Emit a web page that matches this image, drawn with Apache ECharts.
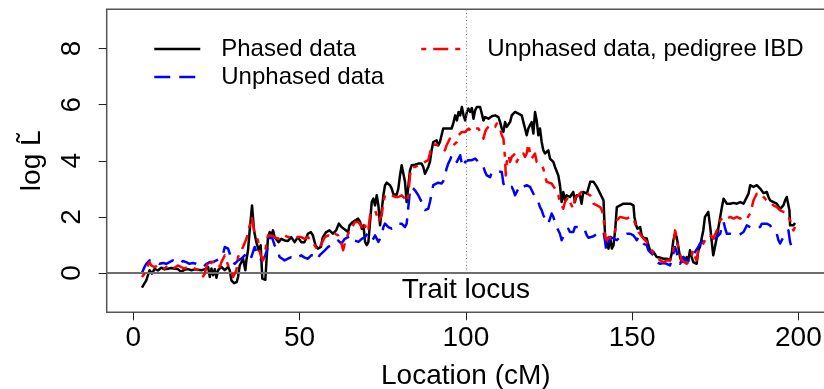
<!DOCTYPE html>
<html>
<head>
<meta charset="utf-8">
<script src="https://cdn.jsdelivr.net/npm/echarts@6/dist/echarts.min.js"></script>
<style>
  html, body { margin: 0; padding: 0; background: #fff; }
  #chart { width: 824px; height: 389px; }
</style>
</head>
<body>
<div id="chart"></div>
<script>
// Log likelihood ratio along the chromosome, [location (cM), log L~]
const phased = [
  [2.6,-0.52],[3.9,-0.26],[4.9,0.10],[5.6,-0.02],[6.4,0.15],[7.4,0.09],[8.4,0.19],[9.4,0.13],[10.4,0.15],[11.4,0.18],
  [12.4,0.15],[13.4,0.14],[14.4,0.04],[15.4,0.12],[16.4,0.14],[17.5,0.10],[18.5,0.13],[19.5,0.12],[20.5,0.10],[21.5,0.14],
  [22.5,0.21],[23,-0.14],[23.5,0.16],[24,-0.08],[24.5,0.14],[25,-0.17],[25.5,0.10],[26.5,0.22],[27.5,0.10],[28.5,0.22],
  [29,0.10],[29.5,-0.26],[30.3,-0.36],[31.1,-0.32],[31.5,-0.14],[32,0.27],[33,0.51],[33.7,0.10],[34,0.45],[34.5,0.81],
  [35,1.52],[35.7,2.41],[36.3,1.52],[37,1.10],[37.7,0.81],[38.3,0.99],[38.8,-0.20],[39.7,-0.24],[40,0.33],[40.5,1.28],
  [41,1.46],[41.5,1.34],[42,1.52],[42.5,1.28],[43,1.22],[43.7,1.10],[44.5,1.22],[45.5,1.16],[46.5,1.14],[47.5,1.28],
  [48.5,1.10],[49.5,1.28],[50.5,1.10],[51.5,1.10],[52.5,1.40],[53.4,1.46],[54,1.34],[54.8,0.98],[55.5,0.87],[56.4,0.93],
  [57,1.28],[58,1.46],[59,1.52],[60,1.40],[61,1.52],[61.8,1.76],[62.6,1.64],[63.6,1.55],[64.6,1.46],[65,1.70],
  [66,1.82],[67.6,1.94],[68.2,1.82],[68.7,1.58],[69.2,1.70],[69.7,1.11],[70.2,0.99],[70.7,1.11],[71.2,1.82],[71.7,2.53],
  [72.2,2.65],[72.7,2.41],[73.2,2.77],[73.7,2.41],[74.2,1.70],[74.7,1.76],[75.2,2.77],[75.7,3.13],[76.2,3.22],[76.7,3.19],
  [77.2,3.13],[77.7,3.01],[78.2,2.81],[78.7,2.79],[79.2,2.79],[79.7,3.01],[80.2,3.48],[80.7,3.84],[81.2,3.90],[81.7,3.25],
  [82.2,2.53],[82.7,2.53],[83.2,3.66],[83.7,3.84],[84.2,3.84],[84.7,3.86],[85.2,3.84],[85.7,3.90],[86.7,3.90],[87.2,3.78],
  [87.7,3.54],[88.2,3.52],[88.7,3.78],[89.2,3.96],[89.7,4.37],[90.2,4.67],[90.7,4.61],[91.2,4.73],[91.7,4.55],[92.2,4.67],
  [92.7,4.91],[93.2,5.15],[93.7,5.21],[94.7,5.15],[95.7,5.15],[96.2,5.33],[96.8,5.62],[97.3,5.44],[97.8,5.74],[98.3,5.62],
  [98.8,5.92],[99.3,5.62],[99.8,5.44],[100.3,5.74],[100.8,5.86],[101.3,5.74],[101.8,5.88],[102.3,5.50],[102.8,5.80],[103.3,5.92],
  [103.8,5.88],[104.3,5.92],[104.8,5.86],[105.3,5.44],[105.8,5.56],[106.3,5.62],[106.8,5.50],[107.8,5.59],[108.8,5.62],[109.8,5.56],
  [110.3,5.38],[110.8,5.15],[111.3,5.03],[111.8,5.38],[112.3,5.21],[113.3,5.38],[113.8,5.62],[114.8,5.74],[115.8,5.68],[116.3,5.74],
  [116.8,5.62],[117.3,5.38],[117.8,5.15],[118.3,4.91],[118.8,5.15],[119.3,5.27],[119.8,5.38],[120.3,4.97],[120.8,5.74],[121.3,5.44],
  [121.8,4.91],[122.3,5.15],[122.8,4.67],[123.3,4.37],[123.8,4.26],[124.3,4.20],[124.8,4.37],[125.3,4.08],[125.8,4.14],[126.3,3.96],
  [126.8,3.78],[127.3,3.84],[127.8,3.48],[128.3,3.13],[128.8,2.53],[129.3,2.89],[129.8,2.59],[130.3,2.77],[130.8,2.83],[131.3,2.71],
  [131.8,2.77],[132.3,2.89],[132.8,2.53],[133.3,2.77],[133.8,2.83],[134.3,2.77],[134.8,2.47],[135.3,2.89],[135.8,2.95],[136.4,2.83],
  [136.9,3.04],[137.4,3.25],[138.4,3.25],[138.9,3.19],[139.4,3.07],[139.9,2.95],[140.4,2.83],[140.9,2.71],[141.4,2.59],[141.6,2.00],
  [141.9,1.28],[142.4,1.05],[142.9,0.87],[143.4,1.28],[143.9,0.87],[144.4,0.99],[144.9,1.52],[145.4,2.35],[145.9,2.41],[146.4,2.41],
  [147.4,2.47],[148.4,2.47],[149.4,2.47],[149.9,2.44],[150.4,2.41],[150.7,2.00],[151.2,1.70],[151.6,1.58],[151.9,1.52],[152.4,1.64],
  [152.9,1.34],[153.4,1.26],[153.9,1.26],[154.4,1.23],[154.9,0.99],[155.4,0.81],[155.9,0.81],[156.4,0.75],[156.9,0.75],[157.4,0.57],
  [157.9,0.60],[158.4,0.55],[158.9,0.57],[159.4,0.51],[159.9,0.45],[160.4,0.51],[160.9,0.45],[161.4,0.45],[161.9,0.69],[162.4,1.17],
  [162.9,1.40],[163.4,1.28],[163.9,0.93],[164.4,0.57],[164.9,0.39],[165.4,0.57],[165.9,0.45],[166.4,0.57],[166.9,0.45],[167.4,0.81],
  [167.9,0.57],[168.4,0.39],[168.9,0.33],[169.4,0.33],[169.9,0.81],[170.4,0.93],[170.9,1.23],[171.4,1.52],[171.9,2.00],[172.4,2.00],
  [172.9,2.18],[173.2,2.12],[173.6,1.52],[174.0,1.05],[174.4,0.63],[174.9,0.93],[175.4,1.23],[175.9,1.58],[176.5,2.00],[177.0,2.35],
  [177.5,2.65],[178.0,2.71],[178.5,2.47],[179.0,2.53],[179.5,2.47],[180.5,2.50],[181.5,2.47],[182.5,2.53],[183.5,2.47],[184.0,2.59],
  [184.5,2.65],[185.0,2.83],[185.5,3.13],[186.0,3.19],[186.5,3.07],[187.0,3.09],[187.5,3.13],[188.0,3.07],[188.5,3.01],[189.0,2.95],
  [189.5,2.85],[190.0,2.83],[190.5,2.89],[191.0,2.71],[191.5,2.59],[192.0,2.53],[192.5,2.53],[193.0,2.53],[193.5,2.47],[194.0,2.41],
  [194.5,2.29],[195.0,2.35],[195.5,2.41],[196.0,2.59],[196.5,2.71],[197.0,2.71],[197.3,2.24],[197.5,1.70],[198.0,1.64],[198.5,1.70],
  [199.0,1.78]
];

const unphased = [
  [2.6,0.00],[3.4,0.22],[3.9,0.33],[4.9,0.45],[5.9,0.39],[6.9,0.39],[7.9,0.33],[8.9,0.36],[9.9,0.33],[10.9,0.39],
  [11.9,0.45],[12.9,0.39],[13.9,0.33],[14.9,0.43],[15.9,0.39],[16.9,0.33],[17.9,0.36],[18.9,0.33],[20.0,0.27],[21.0,0.21],
  [22.0,0.33],[23.0,0.39],[24.0,0.39],[25.0,0.45],[26.0,0.51],[27.0,0.69],[27.5,0.93],[28.0,0.99],[28.5,0.87],[29.0,0.69],
  [29.5,0.45],[30.5,0.33],[31.5,0.45],[32.5,0.51],[33.5,0.63],[34.0,0.75],[34.5,0.81],[35.0,0.69],[35.5,0.57],[36.0,0.75],
  [36.5,0.93],[37.0,0.75],[37.5,0.63],[38.5,0.45],[39.5,0.57],[40.5,0.93],[41.0,1.22],[41.5,1.34],[42.0,1.28],[42.5,0.99],
  [43.0,0.87],[43.5,0.75],[44.0,0.57],[44.5,0.51],[45.5,0.45],[46.5,0.51],[47.5,0.57],[48.5,0.51],[49.5,0.57],[50.5,0.63],
  [51.5,0.55],[52.5,0.51],[53.5,0.63],[54.0,0.69],[55.0,0.63],[55.5,0.51],[56.0,0.63],[56.6,0.69],[57.6,0.81],[58.6,0.93],
  [59.6,0.99],[60.6,1.05],[61.6,1.16],[62.6,1.05],[63.6,1.22],[64.6,1.28],[65.6,1.34],[66.6,1.16],[67.7,1.11],[68.7,1.22],
  [69.7,1.28],[70.7,1.46],[71.7,1.34],[72.2,1.22],[72.7,1.34],[73.7,1.11],[74.2,1.05],[74.7,1.34],[75.2,1.64],[75.7,1.76],
  [76.2,1.70],[76.7,1.64],[77.7,1.58],[78.2,1.52],[78.7,1.64],[79.7,1.76],[80.2,1.70],[80.7,1.76],[81.2,1.76],[81.7,1.64],
  [82.2,1.76],[82.7,2.35],[83.2,2.95],[83.7,3.07],[84.2,3.01],[84.7,2.95],[85.7,2.77],[86.2,2.65],[86.7,2.53],[87.2,2.35],
  [87.7,2.24],[88.2,2.18],[88.7,2.29],[89.2,2.53],[89.7,2.83],[90.2,3.13],[90.7,3.19],[91.7,3.22],[92.7,3.19],[93.2,3.27],
  [93.7,3.48],[94.2,3.72],[94.7,3.90],[95.2,4.02],[95.8,4.20],[96.3,4.25],[96.8,4.14],[97.3,3.96],[97.8,4.02],[98.3,4.20],
  [98.8,3.90],[99.3,3.78],[99.8,3.96],[100.8,4.02],[101.8,4.02],[102.8,4.08],[103.3,4.02],[103.8,3.96],[104.3,4.02],[104.8,3.90],
  [105.3,3.78],[105.8,3.60],[106.3,3.48],[106.8,3.54],[107.3,3.42],[107.8,3.60],[108.8,3.60],[109.8,3.62],[110.8,3.60],[111.3,3.19],
  [111.8,3.07],[112.3,3.03],[112.8,3.01],[113.3,3.01],[113.8,3.07],[114.3,2.95],[114.8,2.77],[115.3,2.89],[115.8,3.01],[116.3,3.13],
  [116.8,3.15],[117.3,3.07],[117.8,3.07],[118.3,3.13],[118.8,3.19],[119.3,3.07],[119.8,2.95],[120.3,2.83],[120.8,2.77],[121.3,2.65],
  [121.8,2.53],[122.3,2.35],[122.8,2.24],[123.3,2.06],[123.8,1.94],[124.3,1.88],[124.8,1.76],[125.3,1.94],[125.8,2.12],[126.3,2.00],
  [126.8,1.82],[127.3,1.64],[127.8,1.58],[128.3,1.40],[128.8,1.17],[129.3,1.29],[129.8,1.34],[130.3,1.46],[130.8,1.58],[131.3,1.46],
  [131.8,1.40],[132.3,1.46],[132.8,1.64],[133.3,1.70],[133.8,1.64],[134.3,1.58],[134.8,1.64],[135.8,1.52],[136.4,1.34],[136.9,1.26],
  [137.4,1.26],[138.4,1.31],[139.4,1.40],[140.4,1.46],[140.9,1.52],[141.4,1.46],[141.9,1.10],[142.2,0.81],[142.6,0.93],[143.2,1.17],
  [143.6,1.28],[144.4,1.23],[145.4,1.17],[145.9,1.23],[146.4,1.28],[147.4,1.34],[148.4,1.40],[149.4,1.40],[150.4,1.34],[150.9,1.26],
  [151.4,1.17],[151.9,1.28],[152.4,1.31],[152.9,1.17],[153.4,1.05],[153.9,0.99],[154.4,0.99],[154.9,0.81],[155.4,0.75],[155.9,0.69],
  [156.4,0.69],[156.9,0.57],[157.4,0.39],[158.4,0.33],[159.4,0.36],[160.4,0.33],[161.4,0.27],[161.9,0.33],[162.4,0.69],[162.9,0.93],
  [163.4,0.75],[163.9,0.45],[164.4,0.33],[164.9,0.45],[165.4,0.57],[165.9,0.45],[166.4,0.39],[167.4,0.45],[168.4,0.57],[168.9,0.75],
  [169.4,0.81],[169.9,0.93],[170.4,1.05],[171.4,1.17],[172.4,1.28],[173.4,1.34],[174.4,1.23],[175.5,1.28],[176.5,1.40],[177.0,1.70],
  [177.5,1.82],[178.0,1.58],[178.5,1.40],[179.5,1.40],[180.5,1.38],[181.5,1.34],[182.5,1.38],[183.5,1.46],[184.0,1.58],[184.5,1.70],
  [185.0,1.76],[185.5,1.64],[186.5,1.58],[187.5,1.62],[188.5,1.64],[189.0,1.76],[189.5,1.82],[190.5,1.76],[191.5,1.70],[192.0,1.58],
  [192.5,1.52],[193.5,1.40],[194.0,1.17],[194.5,1.05],[195.0,1.17],[195.5,1.28],[196.0,1.40],[196.5,1.34],[197.0,1.52],[197.5,1.10],
  [198.0,0.93],[198.5,0.81],[199.0,0.87]
];

const pedigree = [
  [2.6,-0.14],[3.4,-0.02],[3.9,0.10],[4.4,0.27],[4.9,0.39],[5.4,0.27],[5.9,0.33],[6.4,0.21],[7.4,0.27],[8.4,0.21],
  [9.4,0.16],[10.4,0.27],[11.4,0.21],[12.4,0.19],[13.4,0.27],[14.4,0.21],[15.4,0.16],[16.4,0.21],[17.5,0.18],[18.5,0.16],
  [19.5,0.10],[20.5,0.04],[21,-0.12],[21.5,-0.02],[22,0.21],[22.5,0.39],[23,0.27],[23.5,0.39],[24.5,0.39],[25.5,0.39],
  [26,0.21],[26.5,0.39],[27.5,0.63],[28,0.45],[28.5,0.27],[29,0.21],[29.5,0.10],[30,-0.14],[30.5,-0.20],[31,0.10],
  [31.5,0.57],[32.5,0.81],[33,0.93],[33.5,0.99],[34,1.22],[34.5,1.40],[35,1.70],[35.5,2.00],[36,1.76],[36.5,1.40],
  [37,1.28],[37.5,1.16],[38,0.75],[38.5,0.57],[39,0.45],[39.5,0.63],[40,1.05],[40.5,1.34],[41,1.40],[41.5,1.34],
  [42.5,1.28],[43.5,1.22],[44.5,1.34],[45.5,1.34],[46.5,1.28],[47.5,1.28],[48.5,1.22],[49.5,1.28],[50.5,1.28],[51.5,1.22],
  [52.5,1.28],[53.5,1.16],[54.5,0.99],[55.5,0.81],[56.6,1.05],[57.6,1.28],[58.6,1.34],[59.6,1.28],[60.6,1.40],[61.6,1.34],
  [62.6,1.05],[63.1,0.81],[63.6,1.05],[64.6,1.40],[65.6,1.58],[66.6,1.82],[67.7,1.82],[68.2,1.76],[68.7,1.64],[69.2,1.82],
  [69.7,1.64],[70.2,1.76],[70.7,1.58],[71.2,2.06],[71.7,2.18],[72.2,2.12],[72.7,2.24],[73.2,2.06],[73.7,1.82],[74.2,1.76],
  [74.7,2.06],[75.2,2.53],[75.7,2.77],[76.2,2.83],[76.7,2.77],[77.7,2.77],[78.7,2.71],[79.7,2.71],[80.7,2.77],[81.2,2.77],
  [81.7,2.65],[82.2,2.53],[82.7,2.77],[83.2,3.48],[83.7,3.78],[84.2,3.84],[84.7,3.78],[85.7,3.84],[86.7,3.90],[87.7,3.96],
  [88.7,4.02],[89.2,4.26],[89.7,4.55],[90.7,4.58],[91.7,4.55],[92.7,4.49],[93.7,4.37],[94.2,4.55],[94.7,4.67],[95.2,4.79],
  [95.7,4.67],[96.2,4.55],[96.8,4.55],[97.3,4.67],[97.8,4.91],[98.8,5.03],[99.3,5.09],[99.8,5.03],[100.8,5.15],[101.3,5.09],
  [101.8,5.05],[102.8,5.15],[103.3,5.21],[103.8,5.15],[104.3,5.03],[104.8,5.09],[105.3,4.79],[105.8,5.03],[106.3,5.15],[106.8,5.21],
  [107.3,5.27],[107.8,5.33],[108.8,5.21],[109.3,5.33],[109.8,5.27],[110.3,5.15],[110.8,4.91],[111.3,4.79],[111.8,4.08],[112.0,3.48],
  [112.3,3.96],[112.8,4.20],[113.3,3.96],[113.8,4.14],[114.8,4.26],[115.3,3.96],[115.8,4.08],[116.3,4.20],[116.8,4.14],[117.3,4.26],
  [117.8,4.14],[118.3,4.26],[118.8,4.61],[119.3,4.26],[119.8,4.08],[120.3,4.14],[120.8,4.26],[121.3,3.96],[121.8,4.02],[122.8,3.84],
  [123.3,3.72],[123.8,3.48],[124.3,3.25],[124.8,3.19],[125.8,3.19],[126.8,3.01],[127.8,2.77],[128.3,2.53],[128.8,2.41],[129.3,2.29],
  [129.8,2.53],[130.3,2.59],[130.8,2.71],[131.3,2.53],[131.8,2.41],[132.3,2.29],[132.8,2.65],[133.8,2.77],[134.8,2.89],[135.8,2.95],
  [136.4,2.83],[137.4,2.77],[138.4,2.47],[139.4,2.41],[140.4,2.35],[140.9,2.24],[141.4,2.00],[141.9,1.28],[142.4,1.17],[142.9,1.28],
  [143.4,1.34],[143.9,1.23],[144.4,1.31],[144.9,1.52],[145.4,1.88],[145.9,1.94],[146.4,2.00],[147.4,1.97],[148.4,1.94],[149.4,2.00],
  [150.4,1.94],[150.9,1.88],[151.4,1.58],[151.9,1.46],[152.4,1.40],[153.4,1.23],[154.4,1.11],[155.4,0.93],[156.4,0.69],[157.4,0.57],
  [158.4,0.45],[159.4,0.39],[160.4,0.45],[161.4,0.45],[161.9,0.57],[162.4,0.81],[162.9,1.52],[163.2,1.40],[163.6,1.05],[164.4,0.69],
  [164.9,0.45],[165.4,0.39],[166.4,0.33],[167.4,0.45],[168.4,0.81],[168.9,0.57],[169.4,0.45],[169.9,0.81],[170.4,0.93],[171.4,1.05],
  [172.4,1.28],[173.4,1.34],[174.4,1.23],[175.5,1.52],[176.5,1.88],[177.5,2.00],[178.5,1.94],[179.5,2.00],[180.5,1.94],[181.5,2.00],
  [182.5,1.94],[183.5,2.00],[184.5,1.94],[185.5,2.12],[186.0,2.35],[186.5,2.59],[187.0,2.71],[187.5,2.83],[188.5,2.85],[189.5,2.71],
  [190.5,2.59],[191.5,2.53],[192.5,2.41],[193.5,2.35],[194.5,2.23],[195.5,2.18],[196.5,2.12],[197.0,2.06],[197.5,1.88],[198.0,1.70],
  [198.5,1.52],[199.0,1.64]
];

const xTicks = [0, 50, 100, 150, 200];
const yTicks = [0, 2, 4, 6, 8];
const traitLocus = 100;

const FONT = "'Liberation Sans', Arial, Helvetica, sans-serif";
const X_MIN = -8, X_MAX = 208, Y_MIN = -1.4, Y_MAX = 9.4;

const chart = echarts.init(document.getElementById('chart'), null, { renderer: 'canvas' });

const legendText = (gap) => ({
  fontFamily: FONT, fontSize: 24, color: '#000', lineHeight: 24,
  rich: { gap: { width: gap } }
});

chart.setOption({
  animation: false,
  backgroundColor: '#fff',
  grid: {
    left: 106.7, right: -1, top: 9.3, bottom: 76.7,
    containLabel: false, outerBoundsMode: 'none',
    show: true, borderColor: '#555', borderWidth: 1.5, backgroundColor: 'transparent'
  },
  legend: [
    {
      data: ['Phased data', 'Unphased data'],
      orient: 'vertical', left: 153, top: 37, padding: 0,
      itemWidth: 46, itemHeight: 14, itemGap: 4,
      selectedMode: false,
      lineStyle: { width: 2.5 },
      itemStyle: { opacity: 0 },
      formatter: n => '{gap|}' + n,
      textStyle: legendText(16)
    },
    {
      data: ['Unphased data, pedigree IBD'],
      orient: 'vertical', left: 420, top: 37, padding: 0,
      itemWidth: 40, itemHeight: 14,
      selectedMode: false,
      lineStyle: { width: 2.5 },
      itemStyle: { opacity: 0 },
      formatter: n => '{gap|}' + n,
      textStyle: legendText(21)
    }
  ],
  xAxis: {
    type: 'value', min: X_MIN, max: X_MAX,
    name: 'Location (cM)', nameLocation: 'middle', nameGap: 50,
    nameTextStyle: { fontFamily: FONT, fontSize: 28, color: '#000' },
    axisLine: { show: false, onZero: false },
    axisTick: { show: true, length: 8, customValues: xTicks, lineStyle: { color: '#222', width: 1 } },
    axisLabel: { customValues: xTicks, fontFamily: FONT, fontSize: 28, color: '#000', margin: 12 },
    splitLine: { show: false }
  },
  yAxis: {
    type: 'value', min: Y_MIN, max: Y_MAX,
    name: 'log L\u0303', nameLocation: 'middle', nameGap: 60, nameRotate: 90,
    nameTextStyle: { fontFamily: FONT, fontSize: 28, color: '#000' },
    axisLine: { show: false, onZero: false },
    axisTick: { show: true, length: 8, customValues: yTicks, lineStyle: { color: '#222', width: 1 } },
    axisLabel: { customValues: yTicks, rotate: 90, fontFamily: FONT, fontSize: 28, color: '#000', margin: 20 },
    splitLine: { show: false }
  },
  series: [
    {
      name: 'Phased data', type: 'line', data: phased,
      symbol: 'none', clip: true, z: 3,
      lineStyle: { color: '#000', width: 2.5, type: 'solid', join: 'round' },
      itemStyle: { color: '#000' },
      markLine: {
        silent: true, symbol: ['none', 'none'], label: { show: false },
        data: [
          { yAxis: 0, lineStyle: { color: '#6e6e6e', width: 2, type: 'solid' } },
          [
            { coord: [traitLocus, 0], lineStyle: { color: '#777', width: 1, type: [1, 2.5] } },
            { coord: [traitLocus, Y_MAX] }
          ]
        ]
      },
      markPoint: {
        silent: true,
        data: [{
          coord: [traitLocus, 0], symbol: 'rect', symbolSize: 0,
          itemStyle: { color: 'transparent' },
          label: {
            show: true, formatter: 'Trait locus', position: 'inside', offset: [0, 17],
            fontFamily: FONT, fontSize: 28, color: '#000'
          }
        }]
      }
    },
    {
      name: 'Unphased data', type: 'line', data: unphased,
      symbol: 'none', clip: true, z: 4,
      lineStyle: { color: '#0000ff', width: 2.5, type: [16, 9], join: 'round' },
      itemStyle: { color: '#0000ff' }
    },
    {
      name: 'Unphased data, pedigree IBD', type: 'line', data: pedigree,
      symbol: 'none', clip: true, z: 5,
      lineStyle: { color: '#ff0000', width: 2.5, type: [5, 7, 15, 7], join: 'round' },
      itemStyle: { color: '#ff0000' }
    }
  ]
});
</script>
</body>
</html>
